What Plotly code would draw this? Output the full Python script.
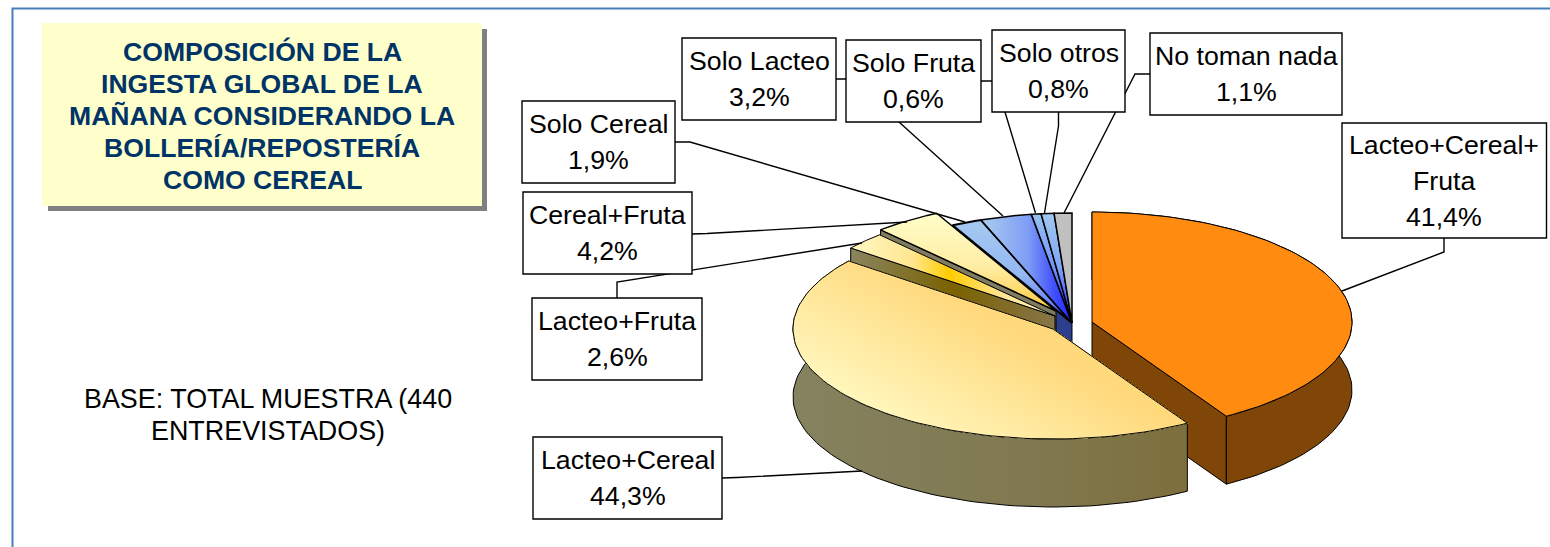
import numpy as np
import plotly.graph_objects as go

# ---- data (clockwise from 12 o'clock) ----
categories = ["Lacteo+Cereal+Fruta", "Lacteo+Cereal", "Lacteo+Fruta", "Cereal+Fruta",
              "Solo Cereal", "Solo Lacteo", "Solo Fruta", "Solo otros", "No toman nada"]
values = [41.4, 44.3, 2.6, 4.2, 1.9, 3.2, 0.6, 0.8, 1.1]
label_lines = [["Lacteo+Cereal+", "Fruta", "41,4%"], ["Lacteo+Cereal", "44,3%"], ["Lacteo+Fruta", "2,6%"],
               ["Cereal+Fruta", "4,2%"], ["Solo Cereal", "1,9%"], ["Solo Lacteo", "3,2%"],
               ["Solo Fruta", "0,6%"], ["Solo otros", "0,8%"], ["No toman nada", "1,1%"]]
title_lines = ["COMPOSICIÓN DE LA", "INGESTA GLOBAL DE LA", "MAÑANA CONSIDERANDO LA",
               "BOLLERÍA/REPOSTERÍA", "COMO CEREAL"]
base_lines = ["BASE: TOTAL MUESTRA (440", "ENTREVISTADOS)"]

# ---- layout of the pseudo-3D pie ----
RX, RY, DEPTH = 260, 110, 68
apex = [(1092, 322), (1053, 329), (1055, 316), (1056, 311), (1072, 323),
        (1072, 323), (1072, 323), (1072, 323), (1072, 323)]
draw_order = [4, 5, 6, 7, 8, 3, 2, 0, 1]
# which radial edge shows a side wall, and which slices show their rim
radial_wall = {0: -1, 2: 0, 3: 0, 4: 0}
rim_wall = {0, 1}

H = "horizontal"
V = "vertical"
top_fill = [
    None,
    None,
    (H, 851, 1056, [(0, "#fff8c4"), (0.3, "#ffe690"), (0.48, "#ffcc00"), (0.72, "#ffe38c"), (1, "#fff8c8")]),
    (V, 213, 311, [(0, "#fffdc9"), (0.55, "#ffeda4"), (0.85, "#ffd560"), (1, "#ffcc33")]),
    (V, 217, 323, [(0, "#a6caf0"), (0.55, "#94b8f2"), (0.8, "#6f86f8"), (1, "#2a2cff")]),
    (H, 985, 1072, [(0, "#a6caf0"), (0.5, "#7f9cf6"), (0.8, "#3f50fc"), (1, "#2020ff")]),
    (V, 213, 323, [(0, "#98c2f0"), (0.5, "#6f94f6"), (1, "#2020ff")]),
    (V, 213, 323, [(0, "#a0c8f0"), (0.5, "#7fa4f6"), (1, "#2020ff")]),
    None,
]
top_color = ["#ff8c10", None, None, None, None, None, None, None, "#c0c0c0"]
wall_color = ["#7f4608", "#807848", "#80765a", "#807c60", "#2c3f8c", "#2c3f8c", "#2c3f8c", "#2c3f8c", "#606060"]
yellow_wall = [(0, "#85825f"), (0.6, "#807850"), (1, "#7d6f3c")]
lf_wall = [(0, "#8a8560"), (0.5, "#7a6200"), (1, "#87764a")]
edge_w = [1, 1, 1, 1.5, 2, 1.5, 1.5, 1.5, 1.5]
# diagonal sheen of the large yellow slice
SHEEN_DIR = (0.5, -0.87)
SHEEN_RANGE = (60, 215)
SHEEN_FROM = (255, 250, 196)
SHEEN_TO = (255, 217, 124)
SHEEN_BANDS = 32

# ---- callout boxes: x0, x1, y0, y1, and leader polyline ----
boxes = [
    (1342, 1546.5, 123, 238, [(1444, 238), (1444, 252), (1342, 291)]),
    (533, 722, 437, 519, [(722, 478), (737, 477.5), (862, 471)]),
    (532, 702, 298, 380, [(617, 298), (617, 282), (862, 243)]),
    (523, 692, 192, 274, [(692, 234), (707, 233.5), (907, 222)]),
    (522, 675, 101, 183, [(675, 142), (690, 142), (965, 222)]),
    (682, 836, 38, 120, [(836, 79), (846, 79), (899, 122), (1003, 216)]),
    (846, 981, 40, 122, [(981, 81), (992, 81), (1005, 112), (1035.5, 213)]),
    (992, 1125, 30, 112, [(1058.5, 112), (1058.5, 126), (1044.5, 213)]),
    (1150, 1342, 33, 115, [(1150, 74), (1135, 74), (1064, 213)]),
]

FONT = "Liberation Sans"
fig = go.Figure()

fracs = np.array(values) / sum(values)
edges = np.concatenate([[0], np.cumsum(fracs)]) * 2 * np.pi


def arc(i, n=90):
    t = np.linspace(edges[i], edges[i + 1], n)
    cx, cy = apex[i]
    return cx + RX * np.sin(t), cy - RY * np.cos(t)


def poly(x, y, line_w, color=None, grad=None):
    kw = dict(x=list(x) + [x[0]], y=list(y) + [y[0]], mode="lines", fill="toself",
              line=dict(color="#000000", width=line_w), hoverinfo="skip", showlegend=False)
    if grad is not None:
        kw["fillgradient"] = dict(type=grad[0], start=grad[1], stop=grad[2], colorscale=grad[3])
    else:
        kw["fillcolor"] = color
    fig.add_trace(go.Scatter(**kw))


def clip_half_plane(pts, d, level):
    """Keep the part of a polygon where d . p >= level."""
    out = []
    for a, b in zip(pts, pts[1:] + pts[:1]):
        va = d[0] * a[0] + d[1] * a[1] - level
        vb = d[0] * b[0] + d[1] * b[1] - level
        if va >= 0:
            out.append(a)
        if (va >= 0) != (vb >= 0):
            s = va / (va - vb)
            out.append((a[0] + s * (b[0] - a[0]), a[1] + s * (b[1] - a[1])))
    return out


def sheen(x, y):
    pts = list(zip(x, y))
    lo, hi = SHEEN_RANGE
    for k in range(SHEEN_BANDS):
        s = k / (SHEEN_BANDS - 1)
        part = pts if k == 0 else clip_half_plane(pts, SHEEN_DIR, lo + s * (hi - lo))
        if len(part) < 3:
            continue
        rgb = [round(a + s * (b - a)) for a, b in zip(SHEEN_FROM, SHEEN_TO)]
        px, py = zip(*part)
        fig.add_trace(go.Scatter(x=list(px) + [px[0]], y=list(py) + [py[0]], mode="none", fill="toself",
                                 fillcolor=f"rgb({rgb[0]},{rgb[1]},{rgb[2]})", hoverinfo="skip", showlegend=False))
    fig.add_trace(go.Scatter(x=list(x) + [x[0]], y=list(y) + [y[0]], mode="lines",
                             line=dict(color="#000000", width=1), hoverinfo="skip", showlegend=False))


for i in draw_order:
    ax, ay = arc(i)
    cx, cy = apex[i]
    w = edge_w[i]
    wc = wall_color[i]
    if i in radial_wall:
        k = radial_wall[i]
        poly([cx, ax[k], ax[k], cx], [cy, ay[k], ay[k] + DEPTH, cy + DEPTH], 1,
             wc, (H, ax[k], cx, lf_wall) if i == 2 else None)
    if i in rim_wall:
        poly(list(ax) + list(ax[::-1]), list(ay) + list(ay[::-1] + DEPTH), 1, wc,
             (H, 795, 1188, yellow_wall) if i == 1 else None)
    if i == 1:
        sheen([cx] + list(ax), [cy] + list(ay))
    else:
        poly([cx] + list(ax), [cy] + list(ay), w, top_color[i], top_fill[i])

shapes = []
ann = []


def line_path(pts):
    return "M " + " L ".join(f"{x},{y}" for x, y in pts)


# slide frame
shapes.append(dict(type="path", path=line_path([(12.5, 547), (12.5, 8.5), (1550, 8.5)]),
                   line=dict(color="#4a7ebb", width=2)))
# title panel
shapes.append(dict(type="rect", x0=48, x1=487, y0=29, y1=211, fillcolor="#808080", line=dict(width=0)))
shapes.append(dict(type="rect", x0=42, x1=482, y0=23, y1=206, fillcolor="#ffffcc", line=dict(width=0)))
# leaders first so the boxes cover them
for b in boxes:
    shapes.append(dict(type="path", path=line_path(b[4]), line=dict(color="#000000", width=1.4)))
for b in boxes:
    shapes.append(dict(type="rect", x0=b[0], x1=b[1], y0=b[2], y1=b[3], fillcolor="#ffffff",
                       line=dict(color="#000000", width=1.4)))


def text(x, y, s, size=26.7, color="#000000", bold=False):
    ann.append(dict(x=x, y=y, text=f"<b>{s}</b>" if bold else s, showarrow=False, xanchor="center",
                    yanchor="middle", font=dict(family=FONT, size=size, color=color)))


for b, lines in zip(boxes, label_lines):
    xc, yc = (b[0] + b[1]) / 2, (b[2] + b[3]) / 2
    n = len(lines)
    for j, s in enumerate(lines):
        text(xc, yc + (j - (n - 1) / 2) * 36, s)
for j, s in enumerate(title_lines):
    text(262, 51.5 + j * 32.2, s, size=26.6, color="#003366", bold=True)
for j, s in enumerate(base_lines):
    text(268, 399 + j * 32, s, size=26.9)

fig.update_layout(
    width=1550, height=547, margin=dict(l=0, r=0, t=0, b=0),
    paper_bgcolor="#ffffff", plot_bgcolor="#ffffff", showlegend=False, hovermode=False,
    xaxis=dict(range=[0, 1550], visible=False, fixedrange=True),
    yaxis=dict(range=[547, 0], visible=False, fixedrange=True),
    shapes=shapes, annotations=ann,
)
fig.write_html("out.html", config=dict(displayModeBar=False),
               post_script="document.body.style.margin='0';document.body.style.overflow='hidden';")
